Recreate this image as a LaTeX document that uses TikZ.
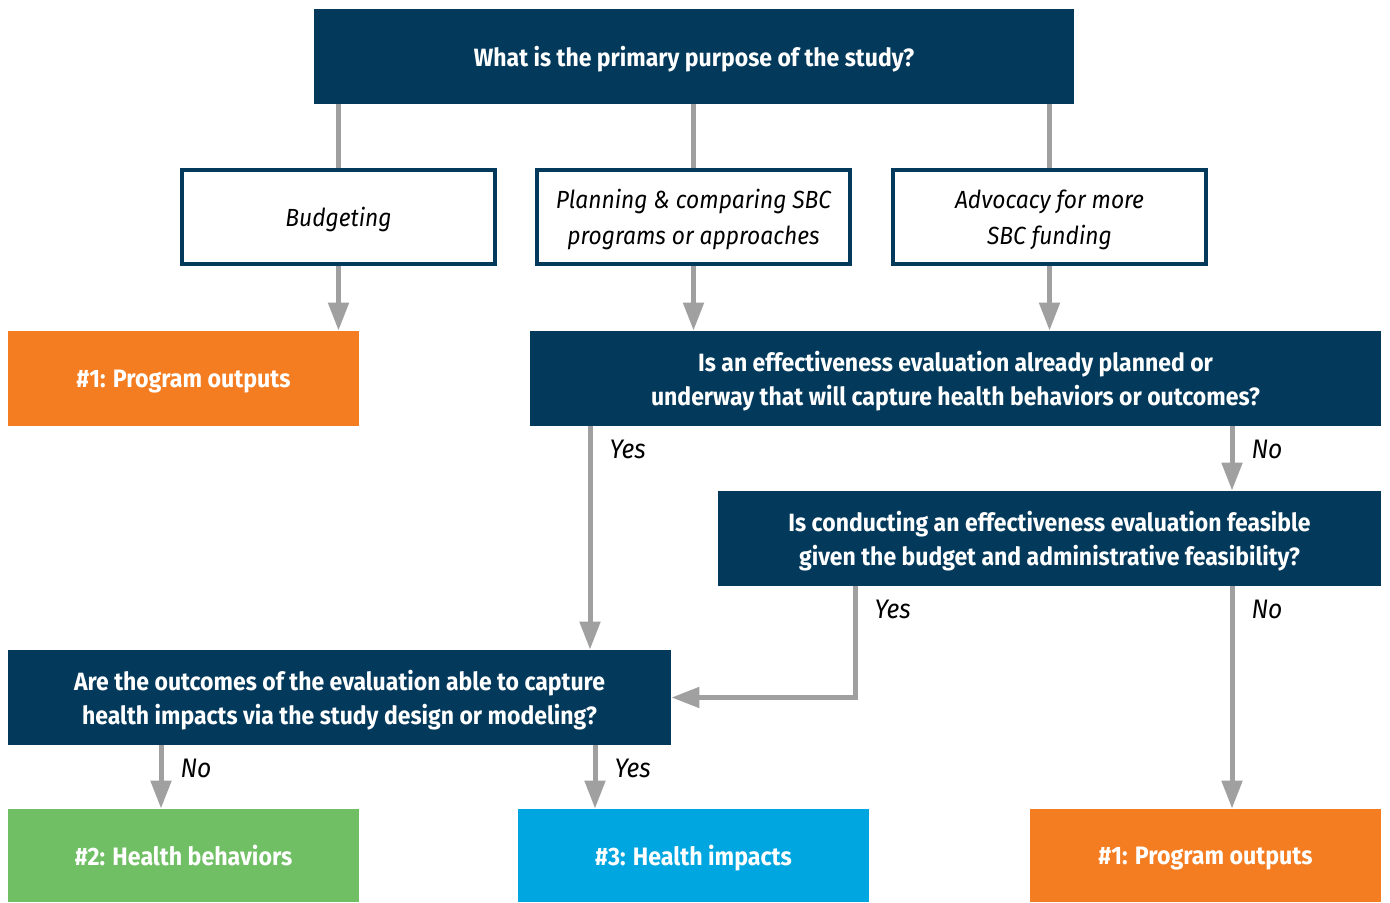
\documentclass[tikz,border=0pt]{standalone}
\usepackage{fontspec}
\setmainfont{Fira Sans}[FakeStretch=0.92]
\usetikzlibrary{arrows.meta}

\definecolor{navy}{HTML}{033A5C}
\definecolor{outorange}{HTML}{F47D22}
\definecolor{behgreen}{HTML}{70BF65}
\definecolor{impblue}{HTML}{00A6E0}
\definecolor{flowgray}{HTML}{A0A0A0}

\begin{document}
\begin{tikzpicture}[x=0.5pt,y=-0.5pt,
  question/.style={fill=navy,text=white,font=\bfseries\fontsize{12.5}{17}\selectfont,align=center,inner sep=0pt,text depth=0pt,minimum height=47.5pt},
  choice/.style={draw=navy,line width=2pt,fill=white,font=\itshape\fontsize{12.4}{18}\selectfont,align=center,inner sep=0pt,text depth=0pt,minimum width=156.5pt,minimum height=47pt},
  result/.style={text=white,font=\bfseries\fontsize{12.6}{15}\selectfont,inner sep=0pt,text depth=0pt,minimum width=175.5pt,minimum height=47.5pt},
  link/.style={draw=flowgray,line width=2.5pt},
  flow/.style={link,-{Triangle[width=10pt,length=14pt]}},
  answer/.style={font=\itshape\fontsize{13.4}{15}\selectfont,anchor=north west,inner sep=0pt,xshift=8.5pt,yshift=-5.5pt}]

\useasboundingbox (0,0) rectangle (1390,903);

% questions
\node[question,minimum width=380pt] (purpose) at (694,56.5) {What is the primary purpose of the study?};
\node[question,minimum width=425.5pt] (planned) at (955.5,378.5) {Is an effectiveness evaluation already planned or\\underway that will capture health behaviors or outcomes?};
\node[question,minimum width=331.5pt] (feasible) at (1049.5,538.5) {Is conducting an effectiveness evaluation feasible\\given the budget and administrative feasibility?};
\node[question,minimum width=331.5pt] (capture) at (339.5,697.5) {Are the outcomes of the evaluation able to capture\\health impacts via the study design or modeling?};

% purposes
\node[choice] (budget) at (338.5,217) {Budgeting};
\node[choice] (compare) at (693.5,217) {Planning \& comparing SBC\\programs or approaches};
\node[choice] (advocacy) at (1049.5,217) {Advocacy for more\\SBC funding};

% outcomes
\node[result,fill=outorange] (outputsA) at (183.5,378.5) {\#1: Program outputs};
\node[result,fill=behgreen,minimum height=46.5pt] (behaviors) at (183.5,855.5) {\#2: Health behaviors};
\node[result,fill=impblue,minimum height=46.5pt] (impacts) at (693.5,855.5) {\#3: Health impacts};
\node[result,fill=outorange,minimum height=46.5pt] (outputsB) at (1205.5,855.5) {\#1: Program outputs};

% columns of the answer lines
\coordinate (yesA) at (590,0);
\coordinate (noA) at (1232,0);
\coordinate (yesB) at (855,0);
\coordinate (noC) at (161,0);
\coordinate (yesC) at (595,0);

\draw[link] (purpose.south -| budget) -- (budget.north);
\draw[link] (purpose.south -| compare) -- (compare.north);
\draw[link] (purpose.south -| advocacy) -- (advocacy.north);

\draw[flow] (budget.south) -- (outputsA.north -| budget);
\draw[flow] (compare.south) -- (planned.north -| compare);
\draw[flow] (advocacy.south) -- (planned.north -| advocacy);

\draw[flow] (planned.south -| yesA) node[answer] {Yes} -- (capture.north -| yesA);
\draw[flow] (planned.south -| noA) node[answer] {No} -- (feasible.north -| noA);
\draw[flow] (feasible.south -| yesB) node[answer] {Yes} |- (capture.east);
\draw[flow] (feasible.south -| noA) node[answer] {No} -- (outputsB.north -| noA);
\draw[flow] (capture.south -| noC) node[answer] {No} -- (behaviors.north -| noC);
\draw[flow] (capture.south -| yesC) node[answer] {Yes} -- (impacts.north -| yesC);

\end{tikzpicture}
\end{document}
